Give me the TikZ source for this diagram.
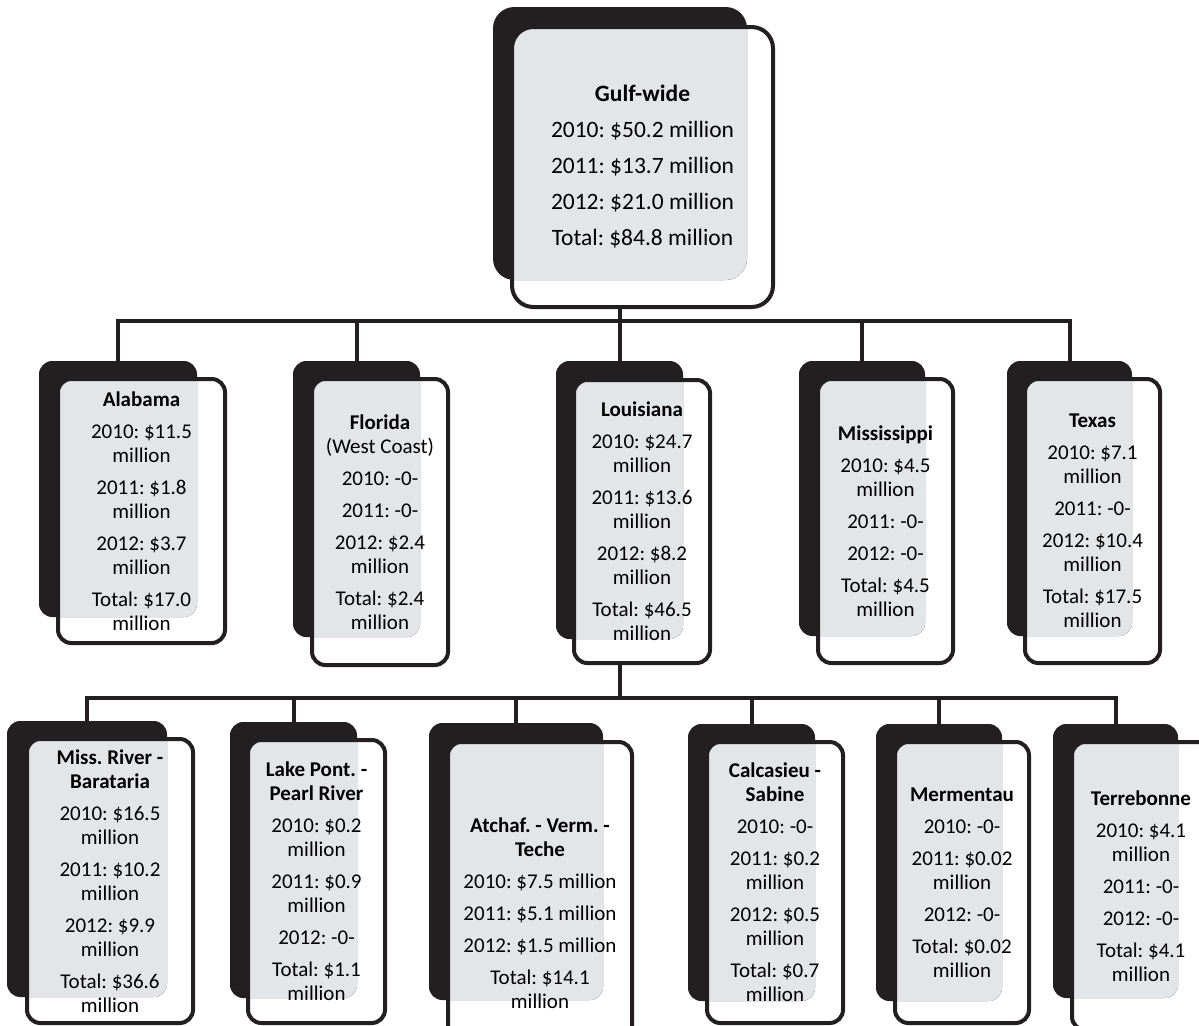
\documentclass[tikz,border=0pt]{standalone}
\usepackage{fontspec}
\setmainfont{Carlito}
\usepackage{tikz}
\usetikzlibrary{fit}
\frenchspacing
\definecolor{cardblack}{RGB}{35,31,32}
\definecolor{cardgray}{RGB}{227,230,233}
\newcommand\cardfont{\fontsize{15.75pt}{18pt}\selectfont}
\newcommand\card[7][rounded corners=10pt]{%
  \node[backbox,#1,fit={#3 #4}] (#2-b) {};
  \begin{scope}
    \clip[#1] #3 rectangle #4;
    \fill[cardgray,#1] #5 rectangle #6;
  \end{scope}
  \node[frontbox,#1,fit={#5 #6}] (#2) {};
  \node[cardtext,#1] (#2-t) at (#2.center) {#7};}

\begin{document}
\begin{tikzpicture}[x=0.75pt,y=-0.75pt,
    backbox/.style={fill=cardblack,inner sep=0pt,outer sep=0pt},
    frontbox/.style={draw=cardblack,line width=3pt,inner sep=0pt,outer sep=0pt},
    cardtext/.style={align=center,inner sep=0pt,font=\cardfont},
    link/.style={draw=cardblack,line width=3pt}]
    \useasboundingbox (0,0) rectangle (1199,1025);
    \card[rounded corners=16pt,font=\fontsize{17.6pt}{27pt}\selectfont]{gulf}{(493,7)}{(747,280)}{(512,27)}{(773,307)}
      {\textbf{Gulf-wide}\\2010: \$50.2 million\\2011: \$13.7 million\\2012: \$21.0 million\\Total: \$84.8 million}
    \card{ala}{(39,361)}{(197,617)}{(58,379)}{(225,643)}
      {\textbf{Alabama}\\[6pt]2010: \$11.5\\million\\[6pt]2011: \$1.8\\million\\[6pt]2012: \$3.7\\million\\[6pt]Total: \$17.0\\million}
    \card{flo}{(293,361)}{(420,637)}{(312,379)}{(448,665)}
      {\textbf{Florida}\\(West Coast)\\[6pt]2010: -0-\\[6pt]2011: -0-\\[6pt]2012: \$2.4\\million\\[6pt]Total: \$2.4\\million}
    \card{lou}{(556,361)}{(683,639)}{(574,380)}{(710,663)}
      {\textbf{Louisiana}\\[6pt]2010: \$24.7\\million\\[6pt]2011: \$13.6\\million\\[6pt]2012: \$8.2\\million\\[6pt]Total: \$46.5\\million}
    \card{mis}{(799,361)}{(925,636)}{(818,379)}{(953,663)}
      {\textbf{Mississippi}\\[6pt]2010: \$4.5\\million\\[6pt]2011: -0-\\[6pt]2012: -0-\\[6pt]Total: \$4.5\\million}
    \card{tex}{(1007,361)}{(1132,636)}{(1025,379)}{(1160,663)}
      {\textbf{Texas}\\[6pt]2010: \$7.1\\million\\[6pt]2011: -0-\\[6pt]2012: \$10.4\\million\\[6pt]Total: \$17.5\\million}
    \card{mrb}{(7,721)}{(167,997)}{(27,739)}{(193,1023)}
      {\textbf{Miss. River -}\\\textbf{Barataria}\\[6pt]2010: \$16.5\\million\\[6pt]2011: \$10.2\\million\\[6pt]2012: \$9.9\\million\\[6pt]Total: \$36.6\\million}
    \card{lpp}{(230,722)}{(357,998)}{(248,740)}{(385,1023)}
      {\textbf{Lake Pont. -}\\\textbf{Pearl River}\\[6pt]2010: \$0.2\\million\\[6pt]2011: \$0.9\\million\\[6pt]2012: -0-\\[6pt]Total: \$1.1\\million}
    \card{avt}{(429,723)}{(603,1000)}{(448,742)}{(632,1084)}
      {\textbf{Atchaf. - Verm. -}\\\textbf{Teche}\\[6pt]2010: \$7.5 million\\[6pt]2011: \$5.1 million\\[6pt]2012: \$1.5 million\\[6pt]Total: \$14.1\\million}
    \card{cs}{(688,724)}{(815,1001)}{(707,742)}{(843,1023)}
      {\textbf{Calcasieu -}\\\textbf{Sabine}\\[6pt]2010: -0-\\[6pt]2011: \$0.2\\million\\[6pt]2012: \$0.5\\million\\[6pt]Total: \$0.7\\million}
    \card{mer}{(876,724)}{(1002,1001)}{(895,742)}{(1029,1023)}
      {\textbf{Mermentau}\\[6pt]2010: -0-\\[6pt]2011: \$0.02\\million\\[6pt]2012: -0-\\[6pt]Total: \$0.02\\million}
    \card{ter}{(1053,724)}{(1178,998)}{(1072,742)}{(1210,1030)}
      {\textbf{Terrebonne}\\[6pt]2010: \$4.1\\million\\[6pt]2011: -0-\\[6pt]2012: -0-\\[6pt]Total: \$4.1\\million}
    \coordinate (bus1) at (0,321);
    \coordinate (bus2) at (0,698);
    \draw[link] (gulf-b.south |- gulf.south) -- (gulf-b.south |- bus1);
    \draw[link] (ala-b.north) -- (bus1 -| ala-b.north) -- (bus1 -| tex-b.north) -- (tex-b.north);
    \foreach \n in {flo,lou,mis} \draw[link] (bus1 -| \n-b.north) -- (\n-b.north);
    \draw[link] (lou-b.south |- lou.south) -- (lou-b.south |- bus2);
    \draw[link] (mrb-b.north) -- (bus2 -| mrb-b.north) -- (bus2 -| ter-b.north) -- (ter-b.north);
    \foreach \n in {lpp,avt,cs,mer} \draw[link] (bus2 -| \n-b.north) -- (\n-b.north);
  \end{tikzpicture}
\end{document}
